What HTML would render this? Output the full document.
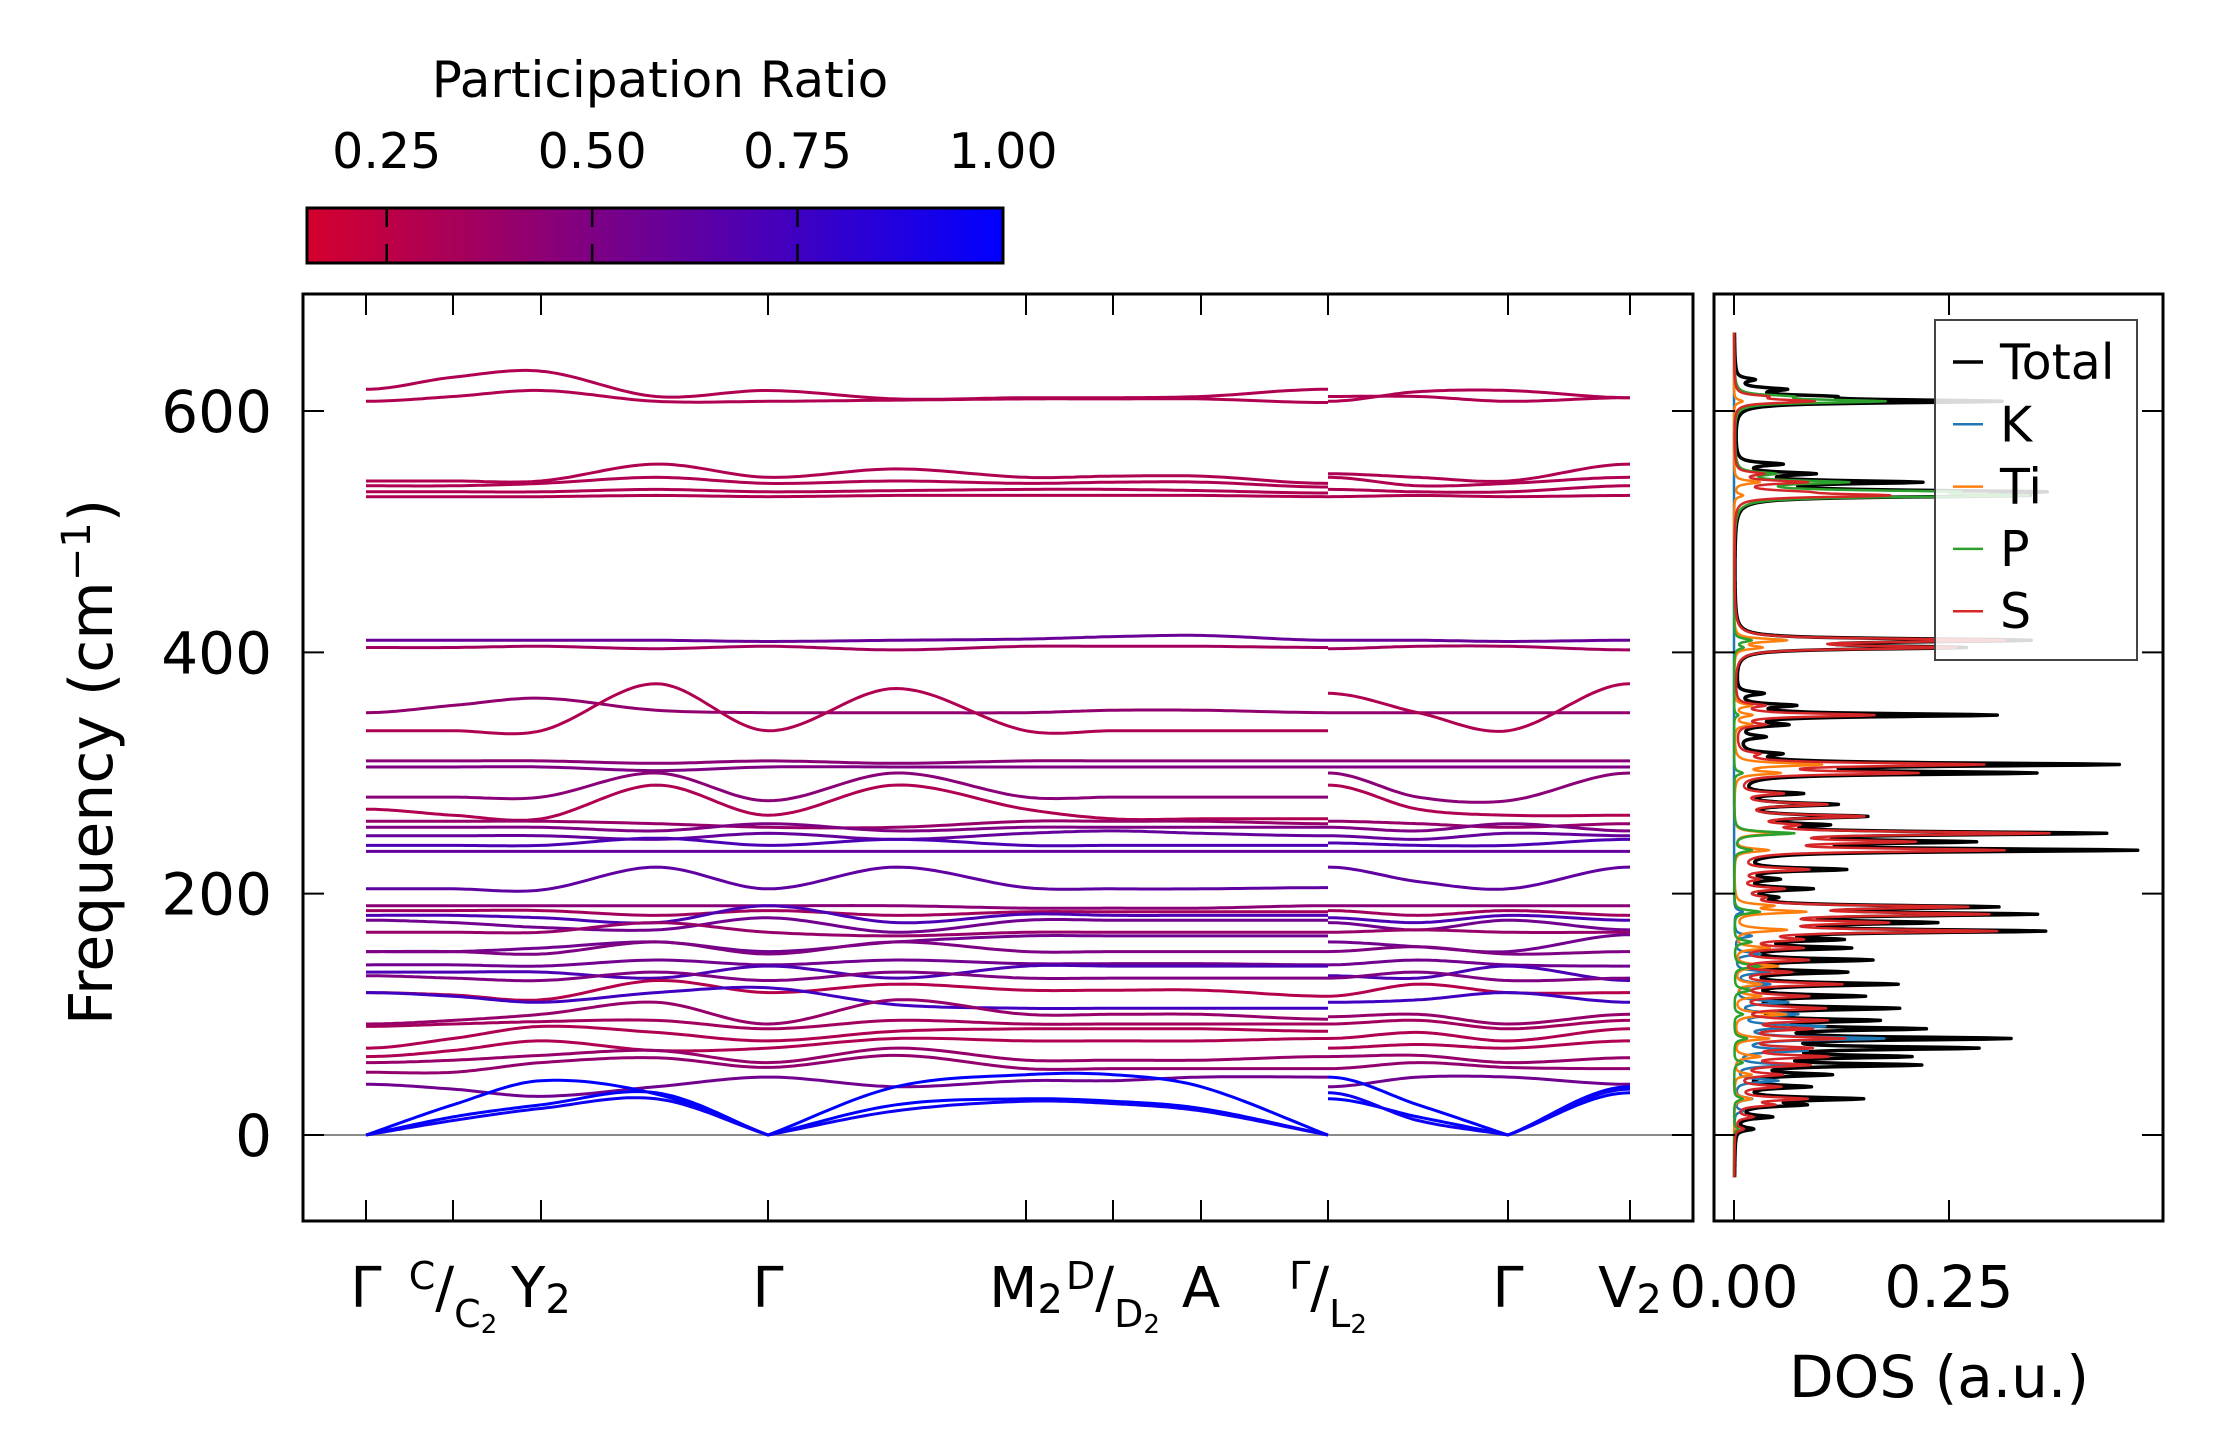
<!DOCTYPE html>
<html><head><meta charset="utf-8"><title>Phonon bands and DOS</title>
<style>html,body{margin:0;padding:0;background:#fff}svg{display:block}text{font-family:"DejaVu Sans","Liberation Sans",sans-serif;fill:#000}</style>
</head><body>
<svg id="fig" xmlns="http://www.w3.org/2000/svg" width="2222" height="1455" viewBox="0 0 2222 1455">
<defs>
<linearGradient id="cbg" x1="0" x2="1" y1="0" y2="0"><stop offset="0" stop-color="rgb(213,0,45)"/><stop offset="1" stop-color="rgb(0,0,255)"/></linearGradient>
<clipPath id="clipMain"><rect x="303" y="294" width="1390" height="927"/></clipPath>
<clipPath id="clipDos"><rect x="1714" y="294" width="449" height="927"/></clipPath>
</defs>
<g>
<text x="660" y="97" font-size="50" text-anchor="middle">Participation Ratio</text>
<rect x="307" y="208" width="696" height="55" fill="url(#cbg)" stroke="#000" stroke-width="3"/>
<g id="cbticks"></g>
</g>
<g id="main">
<line x1="303" x2="1693" y1="1135" y2="1135" stroke="#8a8a8a" stroke-width="2"/>
<g id="bands" clip-path="url(#clipMain)"></g>
<g id="mainTicks"></g>
<rect x="303" y="294" width="1390" height="927" fill="none" stroke="#000" stroke-width="3"/>
<text transform="translate(112,762) rotate(-90)" font-size="60" text-anchor="middle">Frequency (cm<tspan dy="-22" font-size="40">−1</tspan><tspan dy="22">)</tspan></text>
</g>
<g id="dos">
<g id="dosLines" clip-path="url(#clipDos)"></g>
<g id="dosTicks"></g>
<rect x="1714" y="294" width="449" height="927" fill="none" stroke="#000" stroke-width="3"/>
<text x="1939" y="1397" font-size="58" text-anchor="middle">DOS (a.u.)</text>
<g>
<rect x="1935" y="320" width="202" height="340" fill="#fff" fill-opacity="0.85" stroke="#444" stroke-width="2"/>
<g id="legendEntries"></g>
</g>
</g>
</svg>
<script>
// ---------- band data ----------
const kTicks = [0, 87, 175, 402, 660, 747, 835, 962, 1142, 1264];
const kSeg1 = [0, 87, 175, 290, 402, 530, 660, 747, 835, 962];
const kSeg2 = [962, 1052, 1142, 1264];
const bandsSeg1 = [
[618,628,633,612,617,610,611,611,612,618],
[608,612,617,608,608,609,610,610,610,607],
[542,542,542,556,545,552,545,546,546,540],
[538,538,540,545,540,542,540,541,541,537],
[533,533,533,535,533,534,535,535,534,532],
[529,529,529,530,529,530,530,530,530,529],
[410,410,410,410,409,410,411,413,414,410],
[404,404,405,403,405,402,405,405,405,404],
[350,356,362,352,350,350,350,352,352,350],
[335,335,335,374,335,370,335,335,335,335],
[310,310,310,308,310,308,310,310,310,310],
[305,305,305,302,305,305,305,305,305,305],
[280,280,280,300,277,300,280,280,280,280],
[270,265,262,290,265,290,270,262,262,262],
[260,260,260,258,255,255,260,260,260,258],
[255,255,255,252,258,252,255,255,255,255],
[248,248,248,245,250,245,250,252,250,248],
[240,240,240,246,240,245,240,240,240,240],
[235,235,235,235,235,235,235,235,235,235],
[204,204,203,222,204,222,205,204,204,205],
[190,190,190,190,190,190,188,188,188,190],
[186,186,186,182,186,182,185,185,185,185],
[182,182,180,176,190,176,183,182,182,182],
[178,176,172,170,180,168,178,178,178,178],
[168,168,168,176,168,165,168,168,168,168],
[152,152,155,160,152,160,165,165,165,165],
[152,152,150,160,150,160,152,152,152,152],
[141,141,140,145,141,145,142,142,142,141],
[135,135,135,130,140,130,140,140,140,140],
[132,130,128,135,128,135,130,130,130,130],
[118,116,112,128,118,125,120,120,120,115],
[118,115,110,118,122,108,105,105,105,105],
[92,95,100,110,92,112,100,100,100,96],
[90,92,94,95,88,95,92,92,92,92],
[72,80,90,85,78,86,88,88,88,86],
[65,70,78,70,72,80,78,78,78,80],
[60,62,66,70,60,72,62,62,62,65],
[52,52,60,64,56,66,55,55,55,55],
[42,38,32,40,48,40,45,45,48,48],
[0,25,45,34,0,40,50,50,40,0],
[0,15,25,35,0,25,30,28,22,0],
[0,12,22,30,0,20,28,26,20,0]
];
const bandsSeg2 = [
[608,616,617,611],[612,612,608,611],[548,545,542,556],[545,538,540,545],[535,533,533,538],[529,530,529,530],
[410,410,409,410],[403,405,405,402],[350,350,350,350],[366,350,335,374],[310,310,310,310],[305,305,305,305],
[300,280,277,300],[290,270,265,265],[260,258,255,258],[255,252,258,252],[248,245,250,248],[242,240,240,245],
[235,235,235,235],[222,210,204,222],[190,190,190,190],[186,182,186,182],[180,176,182,178],[176,170,178,170],
[168,170,168,168],[160,156,152,166],[152,156,150,152],[141,145,141,140],[132,130,140,128],[130,135,128,130],
[115,125,118,118],[110,112,118,110],[98,100,92,100],[92,95,88,95],[80,85,78,88],[72,75,72,78],[65,66,60,64],
[55,60,56,55],[40,48,48,42],[48,25,0,40],[30,15,0,35],[35,12,0,38]
];
const bandRatio = [0.3,0.3,0.3,0.3,0.3,0.3,0.58,0.35,0.42,0.3,0.45,0.5,0.45,0.3,0.4,0.5,0.6,0.7,0.6,0.62,0.45,0.35,0.7,0.55,0.4,0.55,0.5,0.55,0.7,0.5,0.28,0.75,0.4,0.35,0.3,0.3,0.4,0.42,0.55,1.0,1.0,0.95];
const kLabels = ["Γ","C|C2","Y2","Γ","M2","D|D2","A","Γ|L2","Γ","V2"];
const yTicks = [0, 200, 400, 600];
const cbTicks = [0.25, 0.5, 0.75, 1.0];
// ---------- DOS data ----------
const dosTotalF = [5,15,25,30,40,50,58,65,72,80,88,95,105,115,125,135,145,155,162,169,176,183,189,197,204,212,220,236,243,250,257,264,274,283,300,307,316,330,340,348,356,366,404,410,530,533,541,548,556,608,612,618,626];
const dosTotalV = [.02,.04,.07,.14,.08,.1,.2,.18,.26,.3,.2,.15,.18,.14,.18,.12,.15,.12,.1,.34,.2,.32,.28,.03,.08,.04,.12,.45,.24,.41,.08,.14,.11,.07,.33,.43,.04,.03,.05,.3,.06,.03,.25,.33,.28,.3,.2,.08,.05,.3,.08,.05,.02];
const dosSF = [5,15,25,30,40,50,58,65,72,80,88,95,105,115,125,135,145,155,162,169,176,183,189,197,204,212,220,236,243,250,257,264,274,283,300,307,316,340,348,356,404,410,530,533,541,548,608,612];
const dosSV = [.01,.02,.04,.08,.05,.05,.08,.1,.08,.12,.08,.1,.1,.08,.12,.06,.08,.07,.06,.29,.15,.27,.25,.02,.05,.02,.08,.3,.18,.35,.05,.14,.1,.05,.2,.28,.02,.03,.16,.03,.24,.3,.17,.05,.08,.03,.09,.03];
const dosPF = [5,30,60,80,100,120,140,160,185,236,250,300,348,404,410,530,533,541,548,608,612];
const dosPV = [.005,.01,.01,.015,.01,.02,.03,.02,.03,.02,.07,.01,.005,.01,.02,.3,.2,.12,.04,.17,.05];
const dosTiF = [30,50,65,80,100,115,125,140,155,170,185,190,236,250,300,307,340,348,356,404,410,530,541,608];
const dosTiV = [.02,.02,.03,.04,.06,.03,.03,.05,.04,.06,.08,.04,.04,.05,.05,.1,.02,.02,.02,.03,.06,.01,.03,.01];
const dosKF = [20,30,45,58,70,80,90,100,110,125,135,150,165,185];
const dosKV = [.01,.02,.05,.06,.08,.17,.1,.07,.06,.04,.04,.03,.02,.01];
const dosTicks = [0.0, 0.25];
const legendLabels = ["Total","K","Ti","P","S"];

// ---------- axes ----------
const SVGNS = "http://www.w3.org/2000/svg";
const X0 = 366, X1 = 1630, KMAX = 1264;
function xk(k){ return X0 + k*(X1-X0)/KMAX; }
function fy(f){ return 1135 - f*1.2067; }
function xd(v){ return 1734 + v*860; }
function cb(r){ return 307 + (r-0.153)/(1-0.153)*696; }
function cmap(r){ const t=Math.max(0,Math.min(1,(r-0.153)/(1-0.153))); return `rgb(${Math.round(213*(1-t))},0,${Math.round(45+210*t)})`; }
function mk(tag, attrs, parent){ const e=document.createElementNS(SVGNS,tag); for(const a in attrs) e.setAttribute(a,attrs[a]); parent.appendChild(e); return e; }

function bandPath(ks, vs){
  const n=ks.length; let d="";
  for(let i=0;i<n-1;i++){
    const x0=ks[i],x1=ks[i+1],y0=vs[i],y1=vs[i+1],h=x1-x0;
    let m0;
    if(i===0) m0 = vs[0]<=1 ? (y1-y0)/h : 0;
    else m0 = vs[i]<=1 ? (y1-y0)/h : (vs[i+1]-vs[i-1])/(ks[i+1]-ks[i-1]);
    let m1;
    if(i+1===n-1) m1 = vs[n-1]<=1 ? (y1-y0)/h : 0;
    else m1 = vs[i+1]<=1 ? (y1-y0)/h : (vs[i+2]-vs[i])/(ks[i+2]-ks[i]);
    for(let s=(i===0?0:1);s<=20;s++){
      const t=s/20,t2=t*t,t3=t2*t;
      const y=(2*t3-3*t2+1)*y0+(t3-2*t2+t)*h*m0+(-2*t3+3*t2)*y1+(t3-t2)*h*m1;
      const x=x0+t*h;
      d += (d===""?"M":"L")+xk(x).toFixed(1)+","+fy(y).toFixed(1);
    }
  }
  return d;
}
const bandsG=document.getElementById("bands");
bandsSeg1.forEach((b,i)=>{
  const p=mk("path",{d:bandPath(kSeg1,b),fill:"none",stroke:cmap(bandRatio[i]),"stroke-width":3},bandsG);
  
  
});
bandsSeg2.forEach((b,i)=>{
  const p=mk("path",{d:bandPath(kSeg2,b),fill:"none",stroke:cmap(bandRatio[i]),"stroke-width":3},bandsG);
  
  
});

// main ticks
const mt=document.getElementById("mainTicks");
kTicks.forEach((k,i)=>{
  const x=xk(k);
  const t1=mk("line",{x1:x,x2:x,y1:1221,y2:1200,stroke:"#000","stroke-width":2},mt);
  
  
  const t2=mk("line",{x1:x,x2:x,y1:294,y2:315,stroke:"#000","stroke-width":2},mt);
  
  
  const lab=kLabels[i];
  const tx=mk("text",{x:x,y:1307,"font-size":56,"text-anchor":"middle"},mt);
  
  
  if(lab.indexOf("|")>=0){
    const [a,b]=lab.split("|"); const sub=b.slice(0,-1), num=b.slice(-1);
    tx.innerHTML=`<tspan font-size="38" dy="-18">${a}</tspan><tspan font-size="56" dy="18">/</tspan><tspan font-size="38" dy="20">${sub}</tspan><tspan font-size="26" dy="6">${num}</tspan>`;
  } else if(lab.length===2){
    tx.innerHTML=`${lab[0]}<tspan font-size="40" dy="6">${lab[1]}</tspan>`;
  } else tx.textContent=lab;
});
yTicks.forEach(v=>{
  const y=fy(v);
  const a=mk("line",{x1:303,x2:324,y1:y,y2:y,stroke:"#000","stroke-width":2},mt);
  
  
  const b=mk("line",{x1:1693,x2:1672,y1:y,y2:y,stroke:"#000","stroke-width":2},mt);
  
  
  const t=mk("text",{x:272,y:y+21,"font-size":58,"text-anchor":"end"},mt);
  
  
  t.textContent=String(v);
});
// colorbar ticks
const cbt=document.getElementById("cbticks");
cbTicks.forEach(v=>{
  const x=cb(v);
  if(v<1){
    const a=mk("line",{x1:x,x2:x,y1:208,y2:227,stroke:"#000","stroke-width":2.5},cbt);
    
    
    const b=mk("line",{x1:x,x2:x,y1:244,y2:263,stroke:"#000","stroke-width":2.5},cbt);
    
    
  }
  const t=mk("text",{x:x,y:168,"font-size":49,"text-anchor":"middle"},cbt);
  
  
  t.textContent=v.toFixed(2);
});

// DOS
function dosPath(F,V){
  const g=1.5; let d="";
  for(let f=-35; f<=665; f+=0.5){
    let s=0; for(let i=0;i<F.length;i++){ const u=(f-F[i])/g; s+=V[i]/(1+u*u); }
    d += (d===""?"M":"L")+xd(s).toFixed(1)+","+fy(f).toFixed(1);
  }
  return d;
}
const colors=["#000000","#1f77b4","#ff7f0e","#2ca02c","#d62728"];
const series=[[dosTotalF,dosTotalV],[dosKF,dosKV],[dosTiF,dosTiV],[dosPF,dosPV],[dosSF,dosSV]];
const dl=document.getElementById("dosLines");
series.forEach((s,i)=>{
  const p=mk("path",{d:dosPath(s[0],s[1]),fill:"none",stroke:colors[i],"stroke-width":i===0?3.5:2.5,"stroke-linejoin":"round"},dl);
  
  
});
const dt=document.getElementById("dosTicks");
dosTicks.forEach(v=>{
  const x=xd(v);
  const a=mk("line",{x1:x,x2:x,y1:1221,y2:1200,stroke:"#000","stroke-width":2},dt);
  
  
  const b=mk("line",{x1:x,x2:x,y1:294,y2:315,stroke:"#000","stroke-width":2},dt);
  
  
  const t=mk("text",{x:x,y:1307,"font-size":58,"text-anchor":"middle"},dt);
  
  
  t.textContent=v.toFixed(2);
});
yTicks.forEach(v=>{
  const y=fy(v);
  const a=mk("line",{x1:1714,x2:1735,y1:y,y2:y,stroke:"#000","stroke-width":2},dt);
  
  
  const b=mk("line",{x1:2163,x2:2142,y1:y,y2:y,stroke:"#000","stroke-width":2},dt);
  
  
});
const le=document.getElementById("legendEntries");
legendLabels.forEach((l,i)=>{
  const y=362+i*62.3;
  const a=mk("line",{x1:1953,x2:1983,y1:y,y2:y,stroke:colors[i],"stroke-width":i===0?3.5:2.5},le);
  
  
  const t=mk("text",{x:2000,y:y+17,"font-size":49},le);
  
  
  t.textContent=l;
});
</script>
</body></html>
